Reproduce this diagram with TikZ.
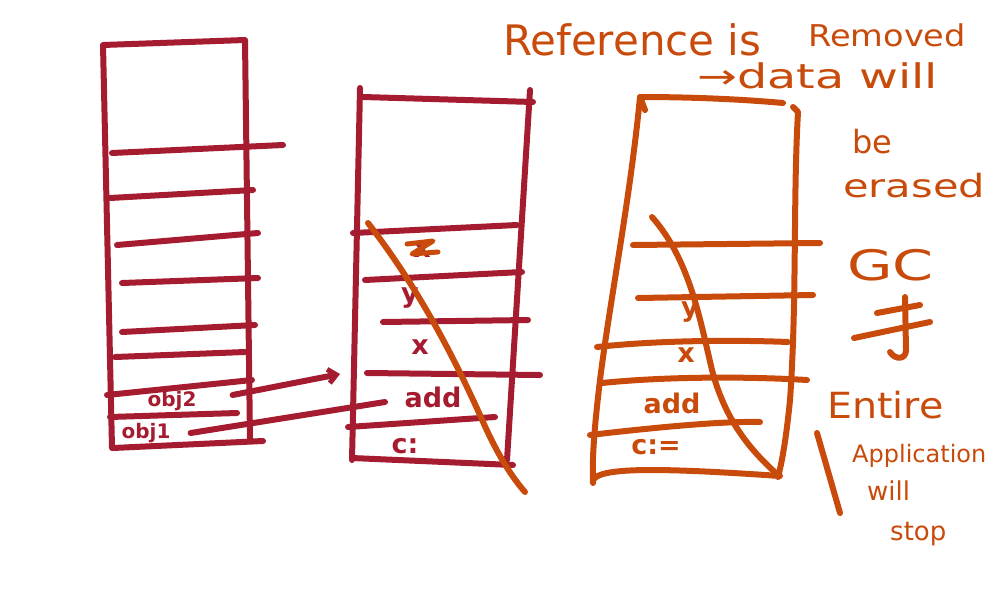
\documentclass[tikz,border=0pt]{standalone}
\usepackage{fontspec}
\setmainfont{DejaVu Sans}
\usetikzlibrary{arrows.meta}
\definecolor{crim}{HTML}{A51C30}
\definecolor{org}{HTML}{C84B0C}
\begin{document}
\begin{tikzpicture}[x=1pt,y=-1pt,
  crimline/.style={draw=crim,line width=6pt,line cap=round,line join=round},
  orgline/.style={draw=org,line width=6pt,line cap=round,line join=round},
  crimtext/.style={text=crim,inner sep=0pt,font=\bfseries\fontsize{27}{27}\selectfont},
  orgtext/.style={text=org,inner sep=0pt,font=\bfseries\fontsize{27}{27}\selectfont},
  hw/.style={text=org,inner sep=0pt},
  ptr/.style={crimline,-{Straight Barb[length=8pt,width=14pt,line width=5pt]}}]
\useasboundingbox (0,0) rectangle (1000,600);
% ---------- left stack ----------
\draw[crimline] (112,448) -- (103,45) -- (245,40) -- (250,440);
\draw[crimline] (112,153) -- (283,145);
\draw[crimline] (110,198) -- (253,190);
\draw[crimline] (117,245) -- (258,233);
\draw[crimline] (122,283) -- (258,278);
\draw[crimline] (122,332) -- (255,325);
\draw[crimline] (115,357) -- (245,352);
\draw[crimline] (107,395) -- (252,380);
\draw[crimline] (110,417) -- (237,413);
\draw[crimline] (113,448) -- (263,441);
\node[crimtext,font=\bfseries\fontsize{20}{20}\selectfont] (obj2) at (172,401) {obj2};
\node[crimtext,font=\bfseries\fontsize{20}{20}\selectfont] (obj1) at (146,433) {obj1};
% ---------- middle stack ----------
\draw[crimline] (352,460) -- (360,88);
\draw[crimline] (363,97) -- (533,102);
\draw[crimline] (530,90) -- (507,460);
\draw[crimline] (352,458) -- (513,465);
\draw[crimline] (353,233) -- (517,225);
\draw[crimline] (365,280) -- (522,272);
\draw[crimline] (383,322) -- (528,320);
\draw[crimline] (367,373) -- (540,375);
\draw[crimline] (348,427) -- (495,417);
\node[crimtext] (mx0) at (422,250) {x};
\draw[orgline,line width=5pt] (407,244) -- (433,241) -- (412,254) -- (438,252);
\node[crimtext] (my) at (410,298) {y};
\node[crimtext] (mx) at (420,347) {x};
\node[crimtext] (madd) at (433,397) {add};
\node[crimtext] (mc) at (405,446) {c:};
\coordinate (tgt1) at (340,374);
\coordinate (tgt2) at (385,402);
\draw[ptr] (obj2.east) ++(36,-6) -- (tgt1);
\draw[crimline] (obj1.east) ++(20,0) -- (tgt2);
\draw[orgline] (368,223) .. controls (420,290) and (455,360) .. (480,415) .. controls (495,450) and (510,475) .. (525,492);
% ---------- right stack ----------
\draw[orgline] (645,110) -- (640,97) .. controls (700,97) and (750,100) .. (783,103);
\draw[orgline] (793,107) -- (798,112) .. controls (793,200) and (797,300) .. (790,400) .. controls (786,440) and (782,462) .. (778,477);
\draw[orgline] (640,97) .. controls (630,200) and (610,300) .. (600,380) .. controls (594,430) and (592,460) .. (593,483);
\draw[orgline] (593,480) .. controls (600,468) and (650,467) .. (780,476);
\draw[orgline] (633,245) -- (820,243);
\draw[orgline] (638,298) -- (813,295);
\draw[orgline] (597,347) .. controls (660,340) and (740,340) .. (788,342);
\draw[orgline] (602,383) .. controls (660,377) and (740,376) .. (807,380);
\draw[orgline] (590,435) .. controls (650,428) and (720,421) .. (760,422);
\node[orgtext] (ry) at (690,312) {y};
\node[orgtext] (rx) at (686,355) {x};
\node[orgtext] (radd) at (672,403) {add};
\node[orgtext] (rc) at (656,447) {c:=};
\draw[orgline] (652,217) .. controls (690,260) and (700,320) .. (712,370) .. controls (725,420) and (750,450) .. (778,475);
% ---------- annotations ----------
\node[hw,anchor=base west,font=\fontsize{42}{42}\selectfont] (t1) at (503,55) {Reference is};
\node[hw,anchor=base west,font=\fontsize{30}{30}\selectfont] (t2) at (808,46) {\scalebox{1.12}[1]{Removed}};
\node[hw,anchor=base west,font=\fontsize{34}{34}\selectfont] (t3) at (697,88) {\scalebox{1.4}[1]{→data will}};
\node[hw,anchor=base west,font=\fontsize{32}{32}\selectfont] (t4) at (852,153) {be};
\node[hw,anchor=base west,font=\fontsize{32}{32}\selectfont] (t5) at (843,197) {\scalebox{1.3}[1]{erased}};
\node[hw,anchor=base west,font=\fontsize{42}{42}\selectfont] (gc) at (847,280) {\scalebox{1.4}[1]{GC}};
\draw[orgline] (905,297) -- (906,350) .. controls (906,360) and (895,360) .. (890,352);
\draw[orgline] (877,313) -- (920,305);
\draw[orgline] (854,338) -- (930,322);
\node[hw,anchor=base west,font=\fontsize{36}{36}\selectfont] (e1) at (827,418) {\scalebox{1.1}[1]{Entire}};
\node[hw,anchor=base west,font=\fontsize{24}{24}\selectfont] (e2) at (852,462) {Application};
\node[hw,anchor=base west,font=\fontsize{26}{26}\selectfont] (e3) at (867,500) {will};
\node[hw,anchor=base west,font=\fontsize{26}{26}\selectfont] (e4) at (890,540) {stop};
\coordinate (b1) at (817,433);
\coordinate (b2) at (840,513);
\draw[orgline] (b1) -- (b2);
\end{tikzpicture}
\end{document}
